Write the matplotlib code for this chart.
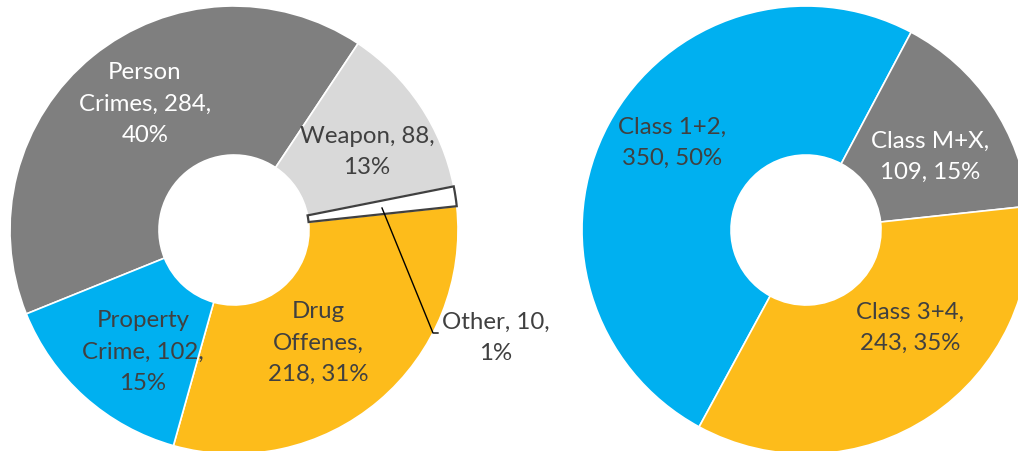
import matplotlib
matplotlib.use("Agg")
import matplotlib.pyplot as plt

# Offence categories (left donut)
offence_labels = ["Person\nCrimes", "Weapon", "Other", "Drug\nOffenes", "Property\nCrime"]
offence_counts = [284, 88, 10, 218, 102]
offence_pcts = ["40%", "13%", "1%", "31%", "15%"]

# Class categories (right donut)
class_labels = ["Class 1+2", "Class M+X", "Class 3+4"]
class_counts = [350, 109, 243]
class_pcts = ["50%", "15%", "35%"]

GRAY = "#7F7F7F"
LIGHT = "#D9D9D9"
BLUE = "#00B0F0"
GOLD = "#FDBC1B"
TEXT = "#404040"

offence_colors = [GRAY, LIGHT, "white", GOLD, BLUE]
class_colors = [BLUE, GRAY, GOLD]

W, H = 1018, 452
fig = plt.figure(figsize=(W / 100, H / 100), dpi=100)
ax = fig.add_axes([0, 0, 1, 1])

R = 224
RING = R - 75

plt.rcParams["font.family"] = ["Lato", "DejaVu Sans"]
FS = 17.3
LS = 1.6

# Left donut
wedges_l, _ = ax.pie(offence_counts, colors=offence_colors, startangle=202.0,
                     counterclock=False, radius=R, center=(234, H - 231),
                     wedgeprops=dict(width=RING, edgecolor="white", linewidth=1.2),
                     frame=True)
other = wedges_l[2]
other.set_edgecolor("#404040")
other.set_linewidth(1.6)
other.set_zorder(3)

# Right donut
ax.pie(class_counts, colors=class_colors, startangle=241.5,
       counterclock=False, radius=R, center=(806, H - 231),
       wedgeprops=dict(width=RING, edgecolor="white", linewidth=1.2),
       frame=True)

ax.set_xlim(0, W)
ax.set_ylim(0, H)
ax.set_aspect("equal")
ax.axis("off")


def label(x, y, s, color=TEXT):
    ax.text(x, H - y, s, ha="center", va="center", multialignment="center",
            fontsize=FS, color=color, linespacing=LS, zorder=5)


label(145, 104, "Person\nCrimes, %d,\n%s" % (offence_counts[0], offence_pcts[0]), "white")
label(367, 152, "Weapon, %d,\n%s" % (offence_counts[1], offence_pcts[1]))
label(496, 338, "Other, %d,\n%s" % (offence_counts[2], offence_pcts[2]))
label(318, 343, "Drug\nOffenes,\n%d, %s" % (offence_counts[3], offence_pcts[3]))
label(143, 352, "Property\nCrime, %d,\n%s" % (offence_counts[4], offence_pcts[4]))

# leader line for the thin "Other" slice
ax.plot([382, 433, 438], [H - 209, H - 334, H - 334], color="black", lw=1.0, zorder=4)

label(672, 143, "%s,\n%d, %s" % (class_labels[0], class_counts[0], class_pcts[0]))
label(930, 157, "%s,\n%d, %s" % (class_labels[1], class_counts[1], class_pcts[1]), "white")
label(910, 328, "%s,\n%d, %s" % (class_labels[2], class_counts[2], class_pcts[2]))

fig.savefig("out.png", dpi=100)
